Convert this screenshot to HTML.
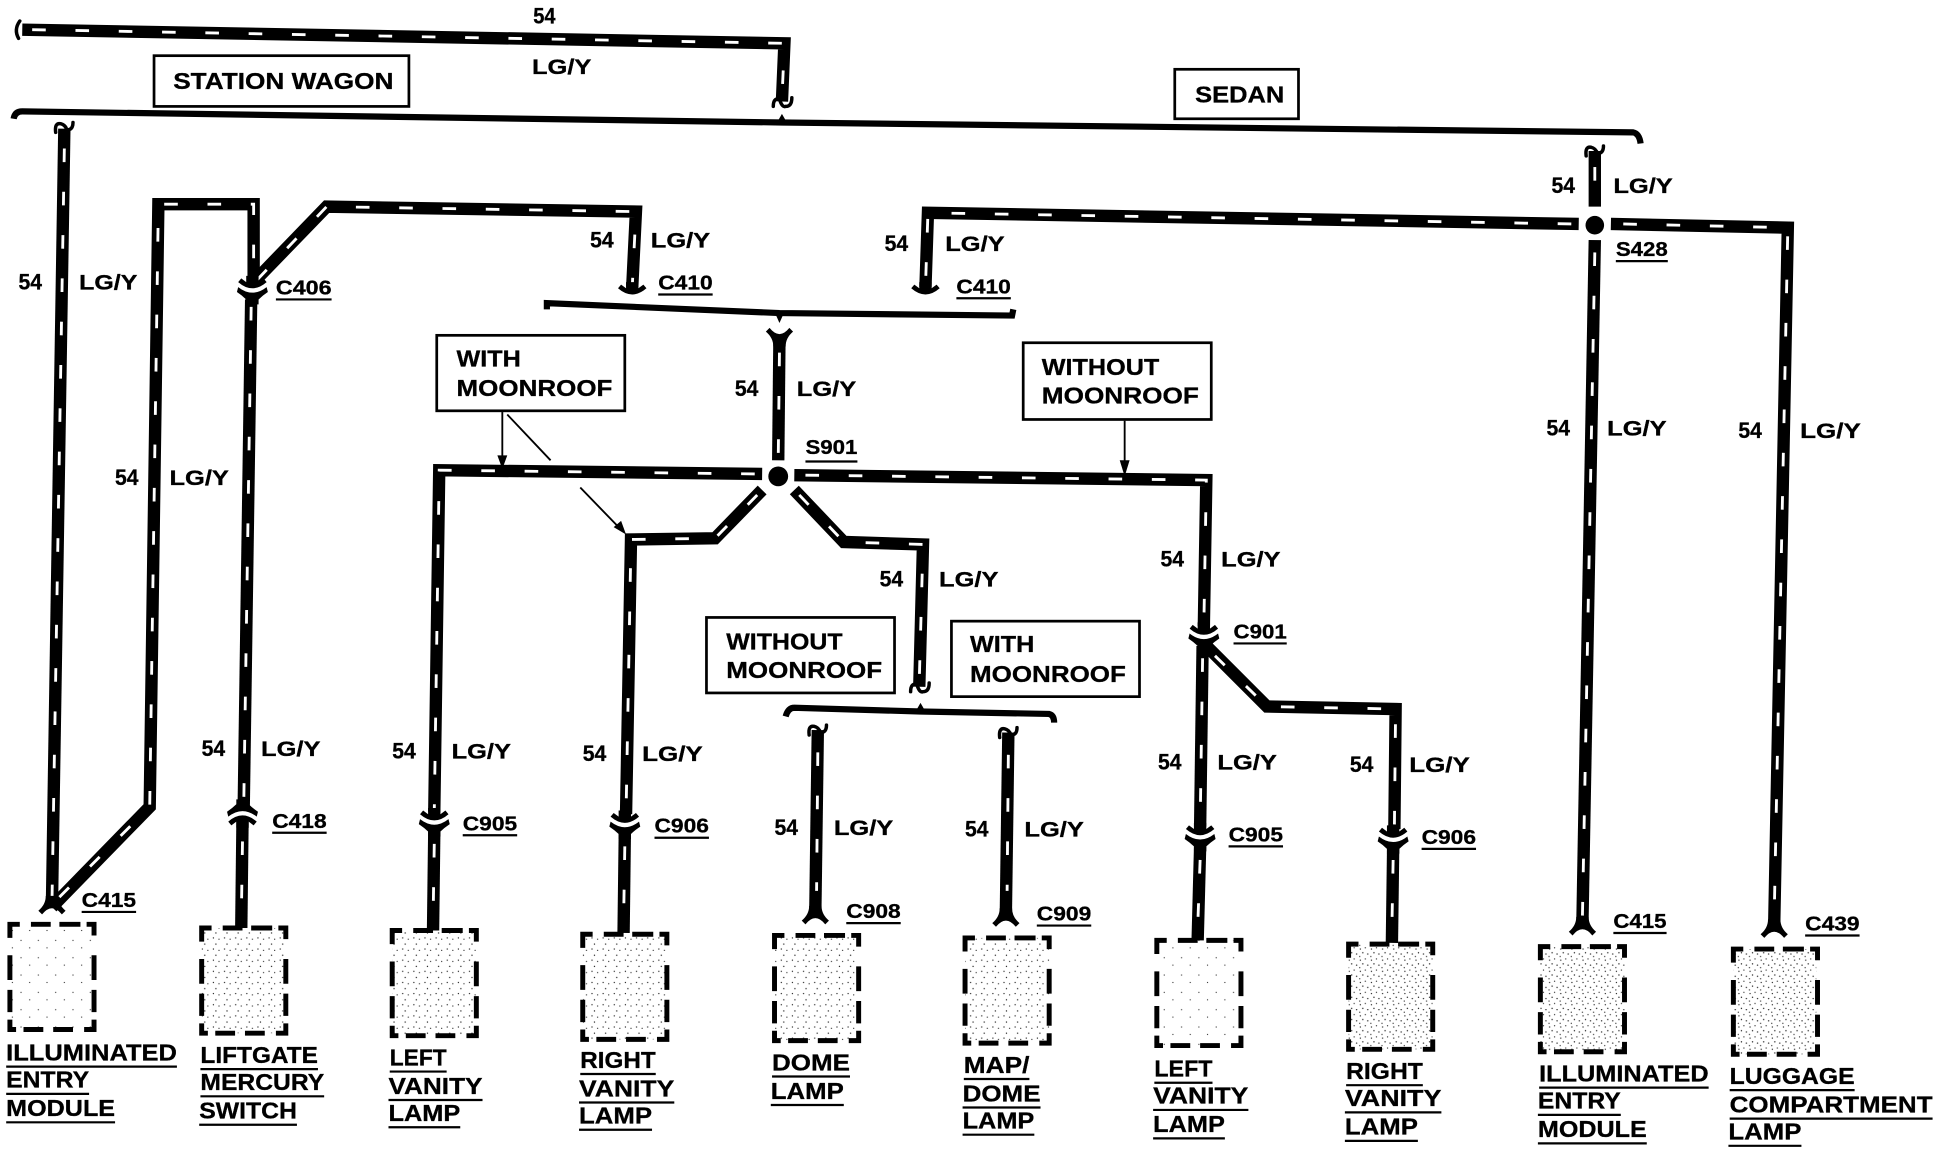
<!DOCTYPE html>
<html><head><meta charset="utf-8"><style>
html,body{margin:0;padding:0;background:#fff}
svg{display:block}
text{font-family:"Liberation Sans",sans-serif;font-weight:bold;fill:#000;stroke:#000;stroke-width:.25}
.n{font-size:18px}
.w{font-size:17px;font-weight:normal;stroke-width:.35}
.c{font-size:16.500px}
.l{font-size:19px;stroke-width:.4}
.wb{fill:none;stroke:#000;stroke-width:10;stroke-linejoin:miter}
.wd{fill:none;stroke:#fff;stroke-width:2.300;stroke-dasharray:11 24}
.u{stroke:#000;stroke-width:1.800}
.box{fill:#fff;stroke:#000;stroke-width:2.200}
.br{fill:none;stroke:#000;stroke-width:5}
.f{fill:none;stroke:#000;stroke-width:2.800;stroke-linecap:round}
.a{stroke:#000;stroke-width:1.500;fill:none}
</style></head><body>
<svg xmlns="http://www.w3.org/2000/svg" width="1940" height="1152" viewBox="0 0 1568 931" preserveAspectRatio="none">
<defs>
<pattern id="st" width="9" height="9" patternUnits="userSpaceOnUse"><rect width="9" height="9" fill="#fff"/><circle cx="1.500" cy="2" r=".55" fill="#222"/><circle cx="5.500" cy="1" r=".5" fill="#222"/><circle cx="3.500" cy="5" r=".55" fill="#222"/><circle cx="7.500" cy="6" r=".55" fill="#222"/><circle cx="1" cy="8" r=".5" fill="#222"/></pattern>
<pattern id="st3" width="9" height="9" patternUnits="userSpaceOnUse"><rect width="9" height="9" fill="#fff"/><circle cx="1.500" cy="2" r=".55" fill="#222"/><circle cx="6" cy="3" r=".5" fill="#222"/><circle cx="3.500" cy="7" r=".55" fill="#222"/></pattern>
<pattern id="st2" width="14" height="14" patternUnits="userSpaceOnUse"><rect width="14" height="14" fill="#fff"/><circle cx="3" cy="4" r=".5" fill="#333"/><circle cx="10" cy="10" r=".5" fill="#333"/></pattern>
<path id="db" d="M0 11V0H8M17 0H33M40 0H57M62 0H68V9M68 25V45M68 53V71M68 77V85H60M51 85H35M27 85H11M5 85H0V77M0 71V53M0 45V25" fill="none" stroke="#000" stroke-width="4"/>
<path id="cu" d="M-5 -10L5 -10L5 -5L9 -8L11.500 -5Q0 5 -11.500 -5L-9 -8L-5 -5Z"/>
<path id="cl" d="M-11.500 -1Q0 8 11.500 -1L12.500 3Q8 6 5 9L5 13L-5 13L-5 9Q-8 6 -12.500 3Z"/>
<path id="y" d="M-5 -13L5 -13Q5 -6 11 -1L8 2Q4 -3 0 -3Q-4 -3 -8 2L-11 -1Q-5 -6 -5 -13Z"/>
<g id="ht" class="f"><path d="M-7 7Q-8 -1 -3 0Q1 1 2 5Q7 5 7 -1"/></g>
<g id="hb" class="f"><path d="M-7 5Q-7 -2 -2 -1Q0 6 3 5Q8 5 8 -2"/></g>
</defs>

<!-- wires -->
<g class="wb">
<path d="M18 24L634 35L632 82"/>
<path d="M52 104L42 730"/>
<path d="M42 733L121 652L128 165L205 165L205 226"/>
<path d="M205 228L264 167L514 171L511 232"/>
<path d="M203 242L197 651"/>
<path d="M196 664L195 750"/>
<path d="M630 272L629 372"/>
<path d="M616 383L355 380L351 656"/>
<path d="M351 672L350 752"/>
<path d="M642 384L975 388L973 506"/>
<path d="M972 522L970 668"/>
<path d="M970 684L968 760"/>
<path d="M975 522L1024 571L1128 573L1127 670"/>
<path d="M1126 686L1125 762"/>
<path d="M616 396L578 435L510 436L506 658"/>
<path d="M505 674L504 754"/>
<path d="M642 396L682 438L746 440L743 555"/>
<path d="M661 590L659 735"/>
<path d="M815 592L813 737"/>
<path d="M1276 181L750 172L748 232"/>
<path d="M1289 122L1289 167"/>
<path d="M1289 194L1279 745"/>
<path d="M1302 181L1445 184L1434 747"/>
</g>
<g class="wd">
<path d="M26 24L634 35L632 80"/>
<path d="M52 120L42 730"/>
<path d="M48 725L121 652L128 165L205 165L205 226"/>
<path d="M208 226L264 167L514 171L511 232"/>
<path d="M203 248L197 651"/>
<path d="M196 680L195 745"/>
<path d="M630 285L629 372"/>
<path d="M610 383L355 380L351 656"/>
<path d="M351 682L350 745"/>
<path d="M651 384L975 388L973 506"/>
<path d="M972 532L970 668"/>
<path d="M970 695L968 750"/>
<path d="M982 530L1024 571L1128 573L1127 670"/>
<path d="M1126 695L1125 750"/>
<path d="M612 400L578 435L510 436L506 658"/>
<path d="M505 684L504 745"/>
<path d="M646 400L682 438L746 440L743 550"/>
<path d="M661 608L660 720"/>
<path d="M815 610L814 720"/>
<path d="M1270 181L750 172L748 232"/>
<path d="M1289 135L1289 167"/>
<path d="M1289 204L1279 740"/>
<path d="M1312 181L1445 184L1434 740"/>
</g>

<!-- splices -->
<circle cx="629" cy="385" r="8"/>
<circle cx="1289" cy="182" r="7.500"/>

<!-- brackets -->
<g class="br">
<path d="M11 96Q12 90 18 90L632 99L1320 107Q1325 108 1326 116"/>
<path d="M442 250L442 245L630 253L818 255L819 250"/>
<path d="M635 579Q637 572 642 572L744 575L848 577Q852 578 852 584"/>
</g>
<path d="M628 99L632 92L636 99Z"/>
<path d="M626 252L630 261L634 252Z"/>
<path d="M740 575L744 568L748 575Z"/>
<path class="f" d="M16 17Q11 24 15 31" stroke-width="2.500"/>

<!-- connector ends -->
<use href="#hb" x="632" y="81"/>
<use href="#ht" x="52" y="100"/>
<use href="#ht" x="1289" y="119"/>
<use href="#hb" x="743" y="554"/>
<use href="#ht" x="661" y="587"/>
<use href="#ht" x="815" y="589"/>
<use href="#y" x="42" y="737"/>
<use href="#y" x="659" y="745"/>
<use href="#y" x="813" y="747"/>
<use href="#y" x="1279" y="754"/>
<use href="#y" x="1434" y="756"/>
<use href="#y" transform="translate(630 267) scale(1 -1)"/>
<use href="#cu" x="204" y="233"/><use href="#cl" x="204" y="233"/>
<use href="#cu" x="511" y="238"/>
<use href="#cu" x="748" y="238"/>
<use href="#cu" x="351" y="663"/><use href="#cl" x="351" y="663"/>
<use href="#cu" x="505" y="665"/><use href="#cl" x="505" y="665"/>
<use href="#cu" x="973" y="513"/><use href="#cl" x="973" y="513"/>
<use href="#cu" x="970" y="675"/><use href="#cl" x="970" y="675"/>
<use href="#cu" x="1126" y="677"/><use href="#cl" x="1126" y="677"/>
<g transform="translate(196 659) scale(1 -1)"><use href="#cu"/><use href="#cl"/></g>

<!-- label boxes -->
<rect class="box" x="124.500" y="45" width="206" height="41"/>
<rect class="box" x="949.500" y="56" width="100" height="40"/>
<rect class="box" x="353" y="271" width="152" height="61"/>
<rect class="box" x="827" y="277" width="152" height="62"/>
<rect class="box" x="571" y="499" width="152" height="61"/>
<rect class="box" x="769" y="502" width="152" height="61"/>
<g class="l">
<text x="140" y="72" textLength="178" lengthAdjust="spacingAndGlyphs">STATION WAGON</text>
<text x="966" y="83" textLength="72" lengthAdjust="spacingAndGlyphs">SEDAN</text>
<text x="369" y="296" textLength="52" lengthAdjust="spacingAndGlyphs">WITH</text>
<text x="369" y="320" textLength="126" lengthAdjust="spacingAndGlyphs">MOONROOF</text>
<text x="842" y="303" textLength="95" lengthAdjust="spacingAndGlyphs">WITHOUT</text>
<text x="842" y="326" textLength="127" lengthAdjust="spacingAndGlyphs">MOONROOF</text>
<text x="587" y="525" textLength="94" lengthAdjust="spacingAndGlyphs">WITHOUT</text>
<text x="587" y="548" textLength="126" lengthAdjust="spacingAndGlyphs">MOONROOF</text>
<text x="784" y="527" textLength="52" lengthAdjust="spacingAndGlyphs">WITH</text>
<text x="784" y="551" textLength="126" lengthAdjust="spacingAndGlyphs">MOONROOF</text>
</g>

<!-- pointer arrows -->
<g class="a">
<path d="M406 333L406 372"/>
<path d="M410 335L445 372"/>
<path d="M469 394L500 426"/>
<path d="M909 340L909 378"/>
</g>
<path d="M402 368L410 368L406 379Z"/>
<path d="M496 426L502 421L506 432Z"/>
<path d="M905 372L913 372L909 385Z"/>

<!-- component boxes -->
<rect x="8" y="747" width="68" height="85" fill="url(#st2)"/><use href="#db" x="8" y="747"/>
<rect x="163" y="750" width="67" height="85" fill="url(#st3)"/><use href="#db" x="163" y="750"/>
<rect x="317" y="752" width="68" height="85" fill="url(#st3)"/><use href="#db" x="317" y="752"/>
<rect x="471" y="755" width="68" height="85" fill="url(#st3)"/><use href="#db" x="471" y="755"/>
<rect x="626" y="756" width="67" height="85" fill="url(#st3)"/><use href="#db" x="626" y="756"/>
<rect x="780" y="758" width="68" height="85" fill="url(#st3)"/><use href="#db" x="780" y="758"/>
<rect x="935" y="760" width="68" height="85" fill="url(#st2)"/><use href="#db" x="935" y="760"/>
<rect x="1090" y="763" width="68" height="85" fill="url(#st)"/><use href="#db" x="1090" y="763"/>
<rect x="1245" y="765" width="68" height="85" fill="url(#st)"/><use href="#db" x="1245" y="765"/>
<rect x="1401" y="767" width="67" height="85" fill="url(#st)"/><use href="#db" x="1401" y="767"/>

<!-- wire numbers -->
<g class="n">
<text x="431" y="19" textLength="18" lengthAdjust="spacingAndGlyphs">54</text>
<text x="15" y="234" textLength="19" lengthAdjust="spacingAndGlyphs">54</text>
<text x="93" y="392" textLength="19" lengthAdjust="spacingAndGlyphs">54</text>
<text x="163" y="611" textLength="19" lengthAdjust="spacingAndGlyphs">54</text>
<text x="317" y="613" textLength="19" lengthAdjust="spacingAndGlyphs">54</text>
<text x="471" y="615" textLength="19" lengthAdjust="spacingAndGlyphs">54</text>
<text x="626" y="675" textLength="19" lengthAdjust="spacingAndGlyphs">54</text>
<text x="780" y="676" textLength="19" lengthAdjust="spacingAndGlyphs">54</text>
<text x="936" y="622" textLength="19" lengthAdjust="spacingAndGlyphs">54</text>
<text x="1091" y="624" textLength="19" lengthAdjust="spacingAndGlyphs">54</text>
<text x="1250" y="352" textLength="19" lengthAdjust="spacingAndGlyphs">54</text>
<text x="1405" y="354" textLength="19" lengthAdjust="spacingAndGlyphs">54</text>
<text x="1254" y="156" textLength="19" lengthAdjust="spacingAndGlyphs">54</text>
<text x="715" y="203" textLength="19" lengthAdjust="spacingAndGlyphs">54</text>
<text x="477" y="200" textLength="19" lengthAdjust="spacingAndGlyphs">54</text>
<text x="594" y="320" textLength="19" lengthAdjust="spacingAndGlyphs">54</text>
<text x="711" y="474" textLength="19" lengthAdjust="spacingAndGlyphs">54</text>
<text x="938" y="458" textLength="19" lengthAdjust="spacingAndGlyphs">54</text>
</g>
<!-- colours -->
<g class="w">
<text x="430" y="60" textLength="48" lengthAdjust="spacingAndGlyphs">LG/Y</text>
<text x="64" y="234" textLength="47" lengthAdjust="spacingAndGlyphs">LG/Y</text>
<text x="137" y="392" textLength="48" lengthAdjust="spacingAndGlyphs">LG/Y</text>
<text x="211" y="611" textLength="48" lengthAdjust="spacingAndGlyphs">LG/Y</text>
<text x="365" y="613" textLength="48" lengthAdjust="spacingAndGlyphs">LG/Y</text>
<text x="519" y="615" textLength="49" lengthAdjust="spacingAndGlyphs">LG/Y</text>
<text x="674" y="675" textLength="48" lengthAdjust="spacingAndGlyphs">LG/Y</text>
<text x="828" y="676" textLength="48" lengthAdjust="spacingAndGlyphs">LG/Y</text>
<text x="984" y="622" textLength="48" lengthAdjust="spacingAndGlyphs">LG/Y</text>
<text x="1139" y="624" textLength="49" lengthAdjust="spacingAndGlyphs">LG/Y</text>
<text x="1299" y="352" textLength="48" lengthAdjust="spacingAndGlyphs">LG/Y</text>
<text x="1455" y="354" textLength="49" lengthAdjust="spacingAndGlyphs">LG/Y</text>
<text x="1304" y="156" textLength="48" lengthAdjust="spacingAndGlyphs">LG/Y</text>
<text x="764" y="203" textLength="48" lengthAdjust="spacingAndGlyphs">LG/Y</text>
<text x="526" y="200" textLength="48" lengthAdjust="spacingAndGlyphs">LG/Y</text>
<text x="644" y="320" textLength="48" lengthAdjust="spacingAndGlyphs">LG/Y</text>
<text x="759" y="474" textLength="48" lengthAdjust="spacingAndGlyphs">LG/Y</text>
<text x="987" y="458" textLength="48" lengthAdjust="spacingAndGlyphs">LG/Y</text>
</g>
<!-- connector names -->
<g class="c">
<text x="223" y="238" textLength="45" lengthAdjust="spacingAndGlyphs">C406</text>
<text x="532" y="234" textLength="44" lengthAdjust="spacingAndGlyphs">C410</text>
<text x="773" y="237" textLength="44" lengthAdjust="spacingAndGlyphs">C410</text>
<text x="220" y="669" textLength="44" lengthAdjust="spacingAndGlyphs">C418</text>
<text x="374" y="671" textLength="44" lengthAdjust="spacingAndGlyphs">C905</text>
<text x="529" y="673" textLength="44" lengthAdjust="spacingAndGlyphs">C906</text>
<text x="684" y="742" textLength="44" lengthAdjust="spacingAndGlyphs">C908</text>
<text x="838" y="744" textLength="44" lengthAdjust="spacingAndGlyphs">C909</text>
<text x="997" y="516" textLength="43" lengthAdjust="spacingAndGlyphs">C901</text>
<text x="993" y="680" textLength="44" lengthAdjust="spacingAndGlyphs">C905</text>
<text x="1149" y="682" textLength="44" lengthAdjust="spacingAndGlyphs">C906</text>
<text x="66" y="733" textLength="44" lengthAdjust="spacingAndGlyphs">C415</text>
<text x="1304" y="750" textLength="43" lengthAdjust="spacingAndGlyphs">C415</text>
<text x="1459" y="752" textLength="44" lengthAdjust="spacingAndGlyphs">C439</text>
<text x="651" y="367" textLength="42" lengthAdjust="spacingAndGlyphs">S901</text>
<text x="1306" y="207" textLength="42" lengthAdjust="spacingAndGlyphs">S428</text>
</g>
<g class="u">
<line x1="223" y1="242" x2="268" y2="242"/>
<line x1="532" y1="238" x2="576" y2="238"/>
<line x1="773" y1="241" x2="817" y2="241"/>
<line x1="220" y1="673" x2="264" y2="673"/>
<line x1="374" y1="675" x2="418" y2="675"/>
<line x1="529" y1="677" x2="573" y2="677"/>
<line x1="684" y1="746" x2="728" y2="746"/>
<line x1="838" y1="748" x2="882" y2="748"/>
<line x1="997" y1="520" x2="1040" y2="520"/>
<line x1="993" y1="684" x2="1037" y2="684"/>
<line x1="1149" y1="686" x2="1193" y2="686"/>
<line x1="66" y1="737" x2="110" y2="737"/>
<line x1="1304" y1="754" x2="1347" y2="754"/>
<line x1="1459" y1="756" x2="1503" y2="756"/>
<line x1="651" y1="373" x2="693" y2="373"/>
<line x1="1306" y1="211" x2="1348" y2="211"/>
</g>

<!-- component names -->
<g class="l">
<text x="5" y="857" textLength="138" lengthAdjust="spacingAndGlyphs">ILLUMINATED</text>
<text x="5" y="879" textLength="67" lengthAdjust="spacingAndGlyphs">ENTRY</text>
<text x="5" y="902" textLength="88" lengthAdjust="spacingAndGlyphs">MODULE</text>
<text x="162" y="859" textLength="95" lengthAdjust="spacingAndGlyphs">LIFTGATE</text>
<text x="162" y="881" textLength="100" lengthAdjust="spacingAndGlyphs">MERCURY</text>
<text x="161" y="904" textLength="79" lengthAdjust="spacingAndGlyphs">SWITCH</text>
<text x="315" y="861" textLength="46" lengthAdjust="spacingAndGlyphs">LEFT</text>
<text x="314" y="884" textLength="76" lengthAdjust="spacingAndGlyphs">VANITY</text>
<text x="314" y="906" textLength="58" lengthAdjust="spacingAndGlyphs">LAMP</text>
<text x="469" y="863" textLength="61" lengthAdjust="spacingAndGlyphs">RIGHT</text>
<text x="468" y="886" textLength="77" lengthAdjust="spacingAndGlyphs">VANITY</text>
<text x="468" y="908" textLength="59" lengthAdjust="spacingAndGlyphs">LAMP</text>
<text x="624" y="865" textLength="63" lengthAdjust="spacingAndGlyphs">DOME</text>
<text x="623" y="888" textLength="59" lengthAdjust="spacingAndGlyphs">LAMP</text>
<text x="779" y="867" textLength="53" lengthAdjust="spacingAndGlyphs">MAP/</text>
<text x="778" y="890" textLength="63" lengthAdjust="spacingAndGlyphs">DOME</text>
<text x="778" y="912" textLength="58" lengthAdjust="spacingAndGlyphs">LAMP</text>
<text x="933" y="870" textLength="47" lengthAdjust="spacingAndGlyphs">LEFT</text>
<text x="932" y="892" textLength="77" lengthAdjust="spacingAndGlyphs">VANITY</text>
<text x="932" y="915" textLength="58" lengthAdjust="spacingAndGlyphs">LAMP</text>
<text x="1088" y="872" textLength="62" lengthAdjust="spacingAndGlyphs">RIGHT</text>
<text x="1087" y="894" textLength="78" lengthAdjust="spacingAndGlyphs">VANITY</text>
<text x="1087" y="917" textLength="59" lengthAdjust="spacingAndGlyphs">LAMP</text>
<text x="1244" y="874" textLength="137" lengthAdjust="spacingAndGlyphs">ILLUMINATED</text>
<text x="1243" y="896" textLength="67" lengthAdjust="spacingAndGlyphs">ENTRY</text>
<text x="1243" y="919" textLength="88" lengthAdjust="spacingAndGlyphs">MODULE</text>
<text x="1398" y="876" textLength="101" lengthAdjust="spacingAndGlyphs">LUGGAGE</text>
<text x="1398" y="899" textLength="164" lengthAdjust="spacingAndGlyphs">COMPARTMENT</text>
<text x="1397" y="921" textLength="59" lengthAdjust="spacingAndGlyphs">LAMP</text>
</g>
<g class="u">
<line x1="5" y1="862" x2="143" y2="862"/><line x1="5" y1="884" x2="72" y2="884"/><line x1="5" y1="907" x2="93" y2="907"/>
<line x1="162" y1="864" x2="257" y2="864"/><line x1="162" y1="886" x2="262" y2="886"/><line x1="161" y1="909" x2="240" y2="909"/>
<line x1="315" y1="866" x2="361" y2="866"/><line x1="314" y1="889" x2="390" y2="889"/><line x1="314" y1="911" x2="372" y2="911"/>
<line x1="469" y1="868" x2="530" y2="868"/><line x1="468" y1="891" x2="545" y2="891"/><line x1="468" y1="913" x2="527" y2="913"/>
<line x1="624" y1="870" x2="687" y2="870"/><line x1="623" y1="893" x2="682" y2="893"/>
<line x1="779" y1="872" x2="832" y2="872"/><line x1="778" y1="895" x2="841" y2="895"/><line x1="778" y1="917" x2="836" y2="917"/>
<line x1="933" y1="875" x2="980" y2="875"/><line x1="932" y1="897" x2="1009" y2="897"/><line x1="932" y1="920" x2="990" y2="920"/>
<line x1="1088" y1="877" x2="1150" y2="877"/><line x1="1087" y1="899" x2="1165" y2="899"/><line x1="1087" y1="922" x2="1146" y2="922"/>
<line x1="1244" y1="879" x2="1381" y2="879"/><line x1="1243" y1="901" x2="1310" y2="901"/><line x1="1243" y1="924" x2="1331" y2="924"/>
<line x1="1398" y1="881" x2="1499" y2="881"/><line x1="1398" y1="904" x2="1562" y2="904"/><line x1="1397" y1="926" x2="1456" y2="926"/>
</g>
</svg>
</body></html>
